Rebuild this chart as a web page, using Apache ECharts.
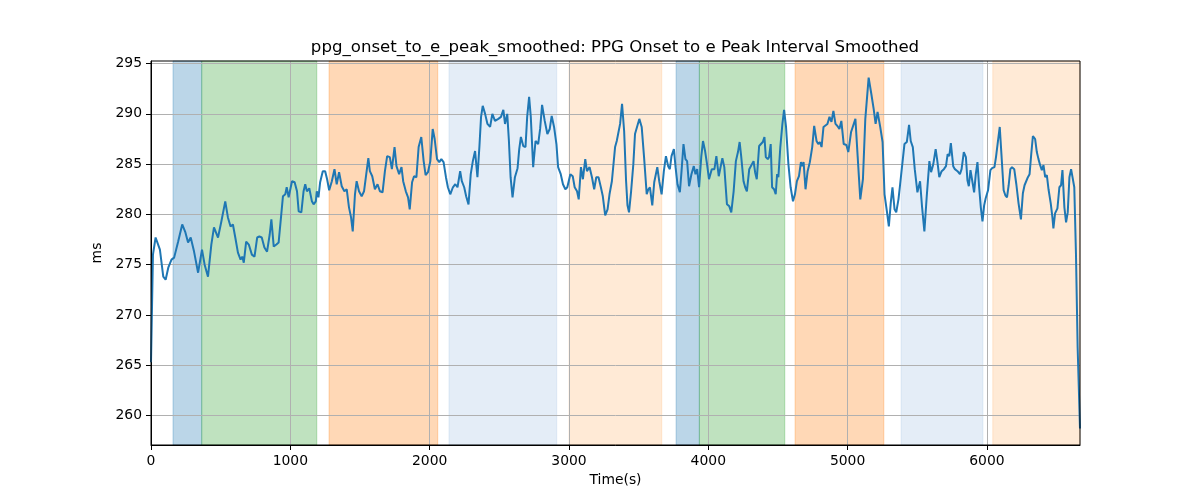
<!DOCTYPE html>
<html><head><meta charset="utf-8">
<script src="https://cdn.jsdelivr.net/npm/echarts@6/dist/echarts.min.js"></script>
<style>html,body{margin:0;padding:0;background:#fff}#c{width:1200px;height:500px}</style>
</head><body><div id="c"></div>
<script>
const times = [
0,14,33,64,88,105,124,147,166,195,224,247,266,285,309,338,366,385,409,433,452,481,505,533,552,571,588,605,624,643,655,666,683,702,724,743,762,778,795,814,833,
852,864,881,900,916,935,947,964,974,988,1012,1031,1048,1060,1079,1095,1107,1119,1136,1155,1167,1183,1190,1202,1214,1233,1250,1264,1279,1298,1317,1333,1350,1369,1388,1405,1421,1436,1448,1464,1476,1493,1512,1529,1545,1560,1571,1588,1607,1626,1643,
1662,1679,1695,1714,1729,1748,1762,1781,1798,1810,1829,1845,1857,1874,1888,1905,1921,1940,1957,1971,1988,2005,2022,2036,2053,2069,2084,2100,2117,2131,2148,2167,2184,2200,2219,2231,2248,2262,2279,2295,2310,2326,2343,2357,2369,2381,2398,2415,2434,2450,
2469,2493,2512,2529,2541,2557,2569,2581,2595,2612,2631,2643,2655,2672,2688,2700,2714,2726,2743,2760,2779,2793,2807,2826,2845,2862,2876,2893,2910,2922,2941,2957,2974,2988,3010,3027,3041,3058,3070,3086,3100,3117,3129,3148,3165,3181,3196,3212,3229,3243,3260,3277,3291,3308,
3331,3343,3355,3367,3381,3396,3410,3420,3431,3446,3462,3474,3486,3505,3522,3539,3558,3570,3581,3598,3612,3634,3648,3665,3681,3696,3712,3724,3736,3753,3765,3779,3796,3808,3822,3836,3848,3862,3879,3896,3908,3920,3934,3950,3962,3977,3991,4005,4025,4044,4058,4075,4086,4101,4115,
4134,4151,4165,4182,4198,4213,4225,4236,4253,4265,4277,4294,4308,4325,4336,4348,4365,4379,4391,4403,4413,4427,4436,4448,4458,4472,4484,4494,4503,4517,4532,4544,4558,4575,4591,4608,4622,4636,4651,4665,4675,4684,4698,4713,4729,4746,4760,4777,4789,4801,4813,4827,4841,4855,4870,4884,4898,4913,4927,4941,4955,
4972,4991,5005,5025,5039,5056,5072,5091,5110,5127,5151,5170,5187,5201,5215,5234,5251,5265,5282,5296,5310,5322,5337,5349,5365,5377,5391,5408,5425,5441,5453,5468,5482,5501,5520,5534,5551,5568,5587,5599,5615,5632,5644,5658,5675,5691,5706,5718,5730,5741,5758,5770,
5789,5806,5818,5834,5849,5860,5870,5882,5894,5908,5920,5932,5944,5956,5968,5980,5991,6008,6025,6037,6054,6065,6080,6092,6104,6120,6132,6144,6156,6168,6180,6196,6211,6227,6244,6258,6270,6282,6294,6306,6318,6330,6346,6358,6370,6382,6394,6406,6418,6430,6442,6458,6470,6477,6489,6506,6520,6532,6542,6556,6568,6580,6592,6604,6615,6627,6639,6651,6668
];
const values = [
265.3,276,277.7,276.5,273.8,273.5,274.7,275.5,275.7,277.3,279,278.2,277.2,277.7,276.3,274.2,276.5,275,273.8,277,278.7,277.7,279.3,281.3,279.7,278.8,279,277.7,276.2,275.5,275.8,275.2,277.3,277,276,275.8,277.7,277.8,277.7,276.7,276.3,
278,279.5,276.8,277,277.2,280,281.8,282,282.7,281.7,283.3,283.2,282.3,280.3,280.2,282.3,283,282.3,282.6,281.3,281,281.3,282.3,281.7,283.2,284.3,284.3,283.5,282.4,283.3,284.5,283,284.2,282.8,282.3,282.5,280.7,279.7,278.3,282,283.3,282.3,281.8,282.3,284,285.6,284.3,283.8,282.5,283,282.3,
282.2,284.3,285.8,285.7,284.5,286.7,284.8,284,284.7,283.3,282.3,281.7,280.5,283.2,283.8,283.7,286.7,287.7,285.3,283.9,284.2,285.3,288.5,287.5,285.5,285.2,285.5,285.2,283.7,282.7,282,282.7,283,282.7,284.3,283.3,282.7,281.8,281,284,285.3,286.3,283.7,286.7,289.7,290.8,290,289,288.7,290,
289.3,289.5,289.7,290.4,289,290,287.3,283.7,281.7,283.7,284.6,286.5,287.7,286.8,286.7,289.7,291.7,289.7,284.7,287.3,287,288.5,290.9,289.3,288,288.5,289.8,288.7,287,284.7,284,283,282.5,282.7,284,283.8,282.7,282.3,281.5,284.7,283.5,285.5,284.3,284.7,283.7,282.5,283.7,283.7,282.7,281.8,279.9,280.5,282,283.3,
286.7,287.3,287.2,289,291,288.3,283.3,280.9,280.2,282.3,285,288,288,289.5,288.7,285.7,282,282.5,282.7,280.9,283.2,284.7,283.3,282,284.3,285.8,284.8,284.5,285.8,286.5,284.7,283,282.2,284.3,287,285.5,285.3,282.8,284,284.8,284,284.5,282.7,285.8,287.3,286.3,285,283.5,284.5,284.5,285.8,283.8,283.8,285.6,284.7,
281,280.8,280.2,282.3,285.3,286.2,287.2,285.8,283.3,282.7,282.3,284.5,284.5,285.3,284.2,283.5,286.8,286.7,287.2,287.7,285.7,285.5,285.7,287,282.7,282.5,282,284,283.7,286.7,289,290.4,288.7,285,282.7,281.3,282,283.3,283.8,285.2,284.8,285.2,282.5,284.3,285.2,286.7,288.8,287.3,287,287.2,286.7,288.7,288.7,289,289.7,289.2,290.3,289,288.8,288.5,289.3,
287,286.9,286.2,288.2,288.3,289.5,285.8,281.5,283.5,289.5,293.6,292,290.5,289,290.2,288.7,287.2,282,280.3,278.8,281.2,282.7,280.5,280.2,281.5,283,283,287,287.2,288.9,287.3,286.7,284.5,282.2,283.3,280.8,278.3,281.8,285.3,284.2,285,286.5,285.3,283.7,284.3,284.5,284.8,286,285.8,287.1,284.8,284.5,
284.3,284,284.5,286.2,285.7,283.4,282.8,284.4,283.4,282.2,284,285.2,282.7,280.7,279.3,280.9,281.6,282.4,284.4,284.6,284.7,285.7,287.4,288.7,286,282.4,281.9,281.7,282.9,284.5,284.7,284.5,283,281.1,279.5,282.1,282.9,283,283.7,284,286,287.8,287.5,286.2,285.5,284.9,284.4,284.9,283.7,283.9,282.5,281.1,279.7,278.6,280.1,280.6,282.7,282.9,284.4,280.7,279.2,280.2,283.7,284.5,284.4,282.7,276.1,266.8,258.7
];
const xTicks = [0,1000,2000,3000,4000,5000,6000];
const yTicks = [260,265,270,275,280,285,290,295];
const bandStart = [158,364,1278,2139,3001,3769,3936,4623,5384,6042];
const bandEnd   = [364,1190,2058,2912,3666,3936,4549,5260,5971,6668];
const bandType  = ['A','B','C','D','E','A','B','C','D','E'];

const palette = {
  A: 'rgba(31,119,180,0.3)',
  B: 'rgba(44,160,44,0.3)',
  C: 'rgba(255,127,14,0.3)',
  D: 'rgba(174,199,232,0.33)',
  E: 'rgba(255,187,120,0.3)'
};
const FONT = 'DejaVu Sans';
const chart = echarts.init(document.getElementById('c'), null, {renderer: 'canvas'});
const lineData = times.map((t, i) => [t, values[i]]);
const areas = bandStart.map((s, i) => [
  {xAxis: s, itemStyle: {color: palette[bandType[i]], borderColor: palette[bandType[i]], borderWidth: 1}},
  {xAxis: bandEnd[i]}
]);
const plain = v => String(v);
chart.setOption({
  animation: false,
  backgroundColor: '#fff',
  title: {
    text: 'ppg_onset_to_e_peak_smoothed: PPG Onset to e Peak Interval Smoothed',
    left: 610, top: 34, textAlign: 'center',
    textStyle: {fontFamily: FONT, fontSize: 16.6, fontWeight: 'normal', color: '#000'}
  },
  grid: {left: 151, right: 120, top: 61, bottom: 55, show: true, borderColor: '#000', borderWidth: 1, backgroundColor: 'transparent', z: 3},
  xAxis: {
    type: 'value', min: 0, max: times[times.length - 1],
    name: 'Time(s)', nameLocation: 'middle', nameGap: 28,
    nameTextStyle: {fontFamily: FONT, fontSize: 13.9, color: '#000'},
    axisLine: {show: true, onZero: false, lineStyle: {color: '#000', width: 1}},
    axisTick: {show: true, length: 5, customValues: xTicks, lineStyle: {color: '#000', width: 1}},
    axisLabel: {customValues: xTicks, formatter: plain, margin: 9, fontFamily: FONT, fontSize: 13.9, color: '#000'},
    splitLine: {show: true, lineStyle: {color: '#b0b0b0', width: 1}},
    z: 1.5
  },
  yAxis: {
    type: 'value', min: 257.06, max: 295.26,
    name: 'ms', nameLocation: 'middle', nameGap: 42, nameRotate: 90,
    nameTextStyle: {fontFamily: FONT, fontSize: 13.9, color: '#000'},
    axisLine: {show: true, onZero: false, lineStyle: {color: '#000', width: 1}},
    axisTick: {show: true, length: 5, customValues: yTicks, lineStyle: {color: '#000', width: 1}},
    axisLabel: {customValues: yTicks, formatter: plain, margin: 9, fontFamily: FONT, fontSize: 13.9, color: '#000'},
    splitLine: {show: true, lineStyle: {color: '#b0b0b0', width: 1}},
    z: 1.5
  },
  series: [
    {
      type: 'line', data: [], z: 1, silent: true,
      markArea: {silent: true, data: areas}
    },
    {
      type: 'line', data: lineData, z: 2, showSymbol: false, symbol: 'none',
      lineStyle: {color: '#1f77b4', width: 2}, itemStyle: {color: '#1f77b4'}
    }
  ]
});
</script>
</body></html>
